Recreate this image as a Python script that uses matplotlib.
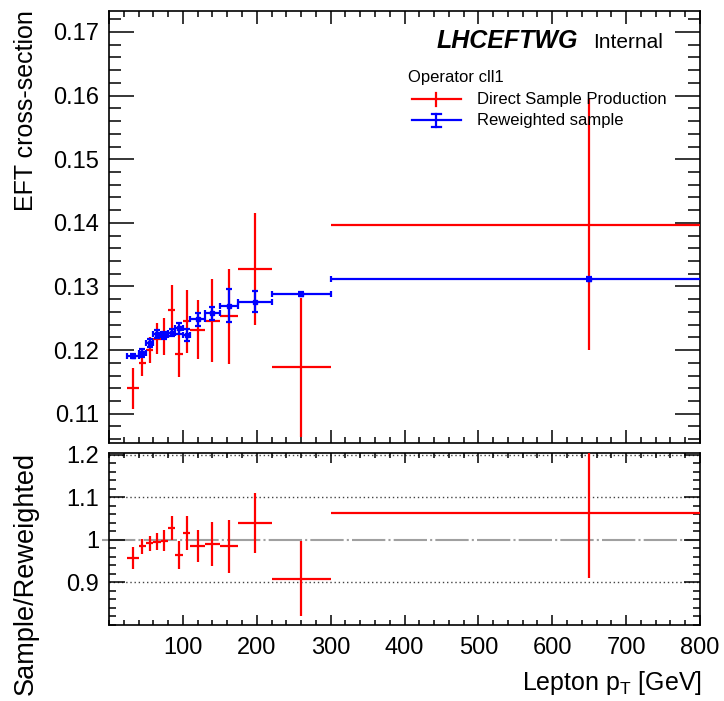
import matplotlib
matplotlib.use('Agg')
import matplotlib.pyplot as plt
import numpy as np
from matplotlib.ticker import MultipleLocator, FixedLocator, FixedFormatter, NullFormatter

plt.rcParams['font.family'] = ['Liberation Sans', 'DejaVu Sans']
plt.rcParams['mathtext.fontset'] = 'custom'
plt.rcParams['mathtext.rm'] = 'Liberation Sans'
plt.rcParams['mathtext.it'] = 'Liberation Sans:italic'
plt.rcParams['mathtext.bf'] = 'Liberation Sans:bold'

# ---------------- data ----------------
bin_edges = [25, 40, 50, 60, 70, 80, 90, 100, 110, 130, 150, 175, 220, 300, 1000]

direct_xsec = [0.1140, 0.1180, 0.1200, 0.1218, 0.1221, 0.1263, 0.1194,
               0.1245, 0.1232, 0.1246, 0.1253, 0.1327, 0.1173, 0.1397]
direct_err = [0.0032, 0.0021, 0.0021, 0.0024, 0.0029, 0.0039, 0.0037,
              0.0050, 0.0046, 0.0065, 0.0075, 0.0088, 0.0109, 0.0197]

reweighted_xsec = [0.11905, 0.11958, 0.12105, 0.12253, 0.12232, 0.12274, 0.12342,
                   0.12237, 0.12484, 0.12580, 0.12695, 0.12763, 0.12884, 0.13117]
reweighted_err = [0.0003, 0.00066, 0.00063, 0.0006, 0.0006, 0.0006, 0.00084,
                  0.00095, 0.00105, 0.00105, 0.0026, 0.0016, 0.0003, 0.0003]

ratio = [0.957, 0.985, 0.992, 0.996, 0.998, 1.027, 0.965,
         1.017, 0.986, 0.990, 0.985, 1.039, 0.909, 1.064]
ratio_err = [0.025, 0.018, 0.018, 0.020, 0.024, 0.028, 0.033,
             0.040, 0.037, 0.051, 0.062, 0.070, 0.089, 0.153]

top_yticks = [0.11, 0.12, 0.13, 0.14, 0.15, 0.16, 0.17]
top_yticklabels = ['0.11', '0.12', '0.13', '0.14', '0.15', '0.16', '0.17']
ratio_yticks = [0.9, 1.0, 1.1, 1.2]
ratio_yticklabels = ['0.9', '1', '1.1', '1.2']
xticks = [100, 200, 300, 400, 500, 600, 700, 800]
xticklabels = ['100', '200', '300', '400', '500', '600', '700', '800']
ratio_gridlines = [0.9, 1.1, 1.2]

# ---------------- layout ----------------
W, H = 724, 701
fig = plt.figure(figsize=(W / 100, H / 100), dpi=100)


def box(l, t, r, b):
    return [l / W, 1 - b / H, (r - l) / W, (b - t) / H]


ax1 = fig.add_axes(box(109, 11, 700, 443))
ax2 = fig.add_axes(box(109, 452.5, 700, 625))

edges = np.array(bin_edges, dtype=float)
centers = 0.5 * (edges[:-1] + edges[1:])
halfw = 0.5 * (edges[1:] - edges[:-1])

RED = '#ff0000'
BLUE = '#0000ff'
LW = 1.6

# upper panel
ax1.errorbar(centers, direct_xsec, xerr=halfw, yerr=direct_err, fmt='none',
             ecolor=RED, elinewidth=LW, capsize=0, zorder=3)
ax1.errorbar(centers, reweighted_xsec, xerr=halfw, yerr=reweighted_err, fmt='s',
             color=BLUE, ms=3, elinewidth=LW, capsize=2.5, capthick=LW, zorder=4)

ax1.set_xlim(0, 800)
ax1.set_ylim(0.1054, 0.1733)
ax1.xaxis.set_major_locator(MultipleLocator(100))
ax1.xaxis.set_minor_locator(MultipleLocator(20))
ax1.xaxis.set_major_formatter(NullFormatter())
ax1.yaxis.set_major_locator(FixedLocator(top_yticks))
ax1.yaxis.set_major_formatter(FixedFormatter(top_yticklabels))
ax1.yaxis.set_minor_locator(MultipleLocator(0.002))

# ratio panel
for g in ratio_gridlines:
    ax2.axhline(g, color='#444444', lw=1.0, ls=(0, (1, 2)), zorder=1)
ax2.axhline(1.0, xmin=-0.012, xmax=1.0, color='#a0a0a0', lw=1.5,
            ls=(0, (16, 1.5, 1, 1.5)), zorder=1, clip_on=False)
ax2.errorbar(centers, ratio, xerr=halfw, yerr=ratio_err, fmt='none',
             ecolor=RED, elinewidth=LW, capsize=0, zorder=3)
ax2.set_xlim(0, 800)
ax2.set_ylim(0.8, 1.205)
ax2.xaxis.set_major_locator(FixedLocator(xticks))
ax2.xaxis.set_major_formatter(FixedFormatter(xticklabels))
ax2.xaxis.set_minor_locator(MultipleLocator(20))
ax2.yaxis.set_major_locator(FixedLocator(ratio_yticks))
ax2.yaxis.set_major_formatter(FixedFormatter(ratio_yticklabels))
ax2.yaxis.set_minor_locator(MultipleLocator(0.02))

for ax in (ax1, ax2):
    for s in ax.spines.values():
        s.set_linewidth(1.2)
    ax.tick_params(which='both', direction='in', top=True, right=True,
                   width=1.1, labelsize=17, colors='black')
    ax.tick_params(axis='y', which='major', pad=7)
    ax.tick_params(axis='x', which='major', pad=9)

ax1.tick_params(axis='y', which='major', length=18)
ax1.tick_params(axis='y', which='minor', length=8.6)
ax1.tick_params(axis='x', which='major', length=9.4)
ax1.tick_params(axis='x', which='minor', length=4.5)
ax2.tick_params(axis='y', which='major', length=11.5)
ax2.tick_params(axis='y', which='minor', length=5)
ax2.tick_params(axis='x', which='major', length=7)
ax2.tick_params(axis='x', which='minor', length=3.6)

# axis titles
fig.text(26 / W, 1 - 10 / H, 'EFT cross-section', rotation=90, ha='center',
         va='top', fontsize=18)
fig.text(26 / W, 1 - 452 / H, 'Sample/Reweighted', rotation=90, ha='center',
         va='top', fontsize=19.5)
fig.text(702 / W, 1 - 690 / H, r'Lepton p$_{\mathrm{T}}$ [GeV]', ha='right',
         va='baseline', fontsize=18)

# labels
fig.text(437 / W, 1 - 48.3 / H, 'LHCEFTWG', fontsize=18, fontweight='bold',
         style='italic', ha='left', va='baseline')
fig.text(593 / W, 1 - 48.3 / H, 'Internal', fontsize=15, ha='left', va='baseline')

# legend (manual, in figure pixel positions)
fig.text(408 / W, 1 - 81.7 / H, 'Operator cll1', fontsize=12, ha='left', va='baseline')
fig.text(477 / W, 1 - 104 / H, 'Direct Sample Production', fontsize=12,
         ha='left', va='baseline')
fig.text(477 / W, 1 - 125 / H, 'Reweighted sample', fontsize=12,
         ha='left', va='baseline')


def fx(px):
    return px / W


def fy(py):
    return 1 - py / H


lines = [
    ([411.7, 461], [99, 99], RED),
    ([436.5, 436.5], [92.5, 105.5], RED),
    ([411.7, 461], [120, 120], BLUE),
    ([436.5, 436.5], [114, 127], BLUE),
    ([432, 441], [114, 114], BLUE),
    ([432, 441], [127, 127], BLUE),
]
for xs, ys, c in lines:
    fig.add_artist(plt.Line2D([fx(v) for v in xs], [fy(v) for v in ys],
                              color=c, lw=LW, transform=fig.transFigure))

fig.savefig('out.png', dpi=100)
